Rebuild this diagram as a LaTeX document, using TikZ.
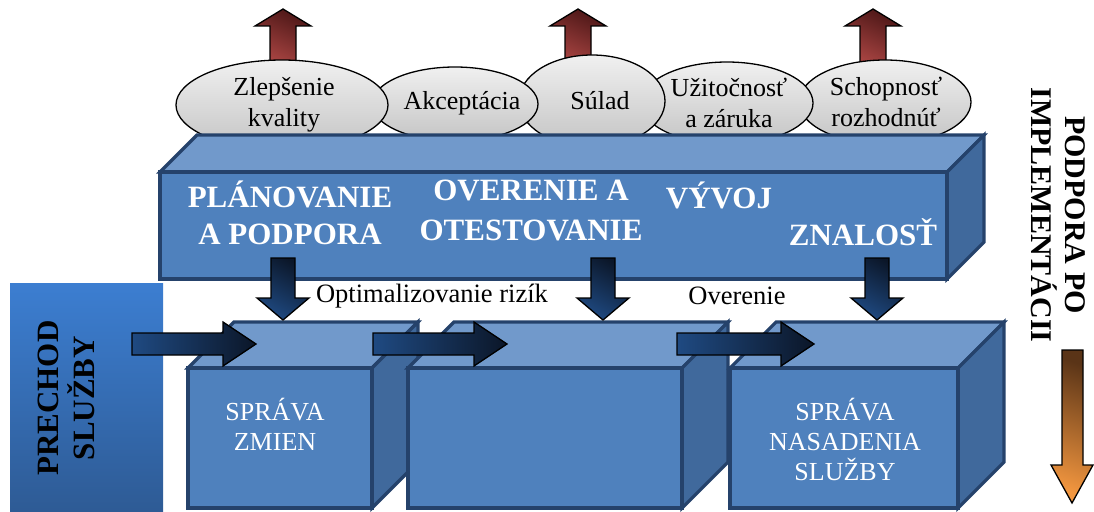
\documentclass[tikz,border=0pt]{standalone}
\usepackage{fontspec}
\setmainfont{Liberation Serif}
\usetikzlibrary{shapes.geometric}

\definecolor{facefront}{HTML}{4F81BD}
\definecolor{facetop}{HTML}{7199CB}
\definecolor{faceside}{HTML}{40699C}
\definecolor{edgeblue}{HTML}{25426B}
\definecolor{navylight}{HTML}{1F4A82}
\definecolor{navydark}{HTML}{0B1628}
\definecolor{redtop}{HTML}{4F1818}
\definecolor{redbot}{HTML}{C0504D}
\definecolor{orangetop}{HTML}{5A3417}
\definecolor{orangebot}{HTML}{F2963F}
\definecolor{bubbletop}{HTML}{F0F0F0}
\definecolor{bubblebot}{HTML}{C4C4C4}
\definecolor{bandtop}{HTML}{3C7ED1}
\definecolor{bandbot}{HTML}{2E5B95}

% solid block: name, left, top, right, bottom, depth
\newcommand\solidblock[6]{%
  \path[edgeline, fill=facetop] (#2,#3) -- (#2+#6,#3-#6) -- (#4+#6,#3-#6) -- (#4,#3) -- cycle;
  \path[edgeline, fill=faceside] (#4,#3) -- (#4+#6,#3-#6) -- (#4+#6,#5-#6) -- (#4,#5) -- cycle;
  \node[frontface, anchor=north west, minimum width=#4pt-#2pt, minimum height=#5pt-#3pt] (#1) at (#2,#3) {};
}
% block arrow pointing right: start x, tip x, centre y
\newcommand\rightblock[3]{%
  \path[navyright] (#1,#3-11) -- (#2-33,#3-11) -- (#2-33,#3-22) -- (#2,#3)
    -- (#2-33,#3+22) -- (#2-33,#3+11) -- (#1,#3+11) -- cycle;
}
% block arrow pointing down: centre x, top y, tip y
\newcommand\downblock[3]{%
  \path[navydown] (#1-12,#2) -- (#1+12,#2) -- (#1+12,#3-22) -- (#1+26,#3-22)
    -- (#1,#3) -- (#1-26,#3-22) -- (#1-12,#3-22) -- cycle;
}
% block arrow pointing up: centre x, tip y, bottom y
\newcommand\upblock[3]{%
  \path[redup] (#1-13,#3) -- (#1-13,#2+17) -- (#1-28,#2+17) -- (#1,#2)
    -- (#1+28,#2+17) -- (#1+13,#2+17) -- (#1+13,#3) -- cycle;
}

\begin{document}
\begin{tikzpicture}[x=1pt,y=-1pt,
  edgeline/.style={draw=edgeblue, line width=3.2pt, line join=miter},
  frontface/.style={edgeline, fill=facefront, rectangle, inner sep=0pt, outer sep=0pt},
  bubble/.style={ellipse, draw=black, line width=1.3pt, top color=bubbletop,
    bottom color=bubblebot, inner sep=0pt},
  bubbletext/.style={align=center, inner sep=0pt, font=\fontsize{26}{31}\selectfont},
  navyright/.style={draw=black, line width=1.3pt, left color=navylight, right color=navydark},
  navydown/.style={draw=black, line width=1.3pt, top color=navydark, bottom color=navylight,
    shading angle=-30},
  redup/.style={draw=black, line width=1.3pt, top color=redtop, bottom color=redbot,
    shading angle=-25},
  bartext/.style={text=white, align=center, font=\fontsize{31}{37}\bfseries\selectfont},
  cubetext/.style={text=white, align=center, font=\fontsize{26}{30}\selectfont},
  plain/.style={font=\fontsize{26.5}{30}\selectfont},
  sidetext/.style={align=center, font=\fontsize{31}{36}\bfseries\selectfont}]
\useasboundingbox (0,0) rectangle (1094,511);

% outcome arrows behind the bubbles
\upblock{283}{9}{80}
\upblock{578}{9}{80}
\upblock{873}{9}{80}

% outcome bubbles, right to left so each overlaps its right neighbour
\node[bubble, minimum width=172pt, minimum height=84pt] (decide) at (885,102) {};
\node[bubbletext] (decidetxt) at (886,102) {Schopnosť\\rozhodnúť};
\node[bubble, minimum width=172pt, minimum height=82pt] (utility) at (727,103) {};
\node[bubbletext] (utilitytxt) at (729,103) {Užitočnosť\\a záruka};
\node[bubble, minimum width=146pt, minimum height=92pt] (comply) at (592,101) {};
\node[bubbletext] (complytxt) at (600,101) {Súlad};
\node[bubble, minimum width=166pt, minimum height=74pt] (accept) at (455,104) {};
\node[bubbletext] (accepttxt) at (462,103) {Akceptácia};
\node[bubble, minimum width=212pt, minimum height=90pt] (quality) at (282,105) {};
\node[bubbletext] (qualitytxt) at (284,105) {Zlepšenie\\kvality};

% top slab
\solidblock{bar}{160}{172}{947}{279}{37}
\node[bartext] (plan) at (290,213) {PLÁNOVANIE\\A PODPORA};
\node[bartext, font=\fontsize{31}{40}\bfseries\selectfont] (test) at (531,210) {OVERENIE A\\OTESTOVANIE};
\node[bartext] (dev) at (719,195) {VÝVOJ};
\node[bartext] (know) at (863,232) {ZNALOSŤ};

% service transition band
\path[top color=bandtop, bottom color=bandbot] (10,283) rectangle (163,511);
\node[sidetext, rotate=90] (trans) at (66,398) {PRECHOD\\SLUŽBY};

% lower blocks
\solidblock{change}{188}{368}{372}{508}{46}
\solidblock{middle}{408}{368}{682}{508}{46}
\solidblock{deploy}{730}{368}{958}{508}{46}
\node[cubetext] (changetxt) at (275,424) {SPRÁVA\\ZMIEN};
\node[cubetext] (deploytxt) at (845,439) {SPRÁVA\\NASADENIA\\SLUŽBY};

% flow arrows
\rightblock{132}{256}{344}
\rightblock{373}{507}{344}
\rightblock{677}{814}{344}
\downblock{283}{258}{320}
\downblock{603}{258}{320}
\downblock{877}{258}{320}

\node[plain] (risk) at (432,296) {Optimalizovanie rizík};
\node[plain] (verify) at (737,296) {Overenie};

% post-implementation support
\node[sidetext, rotate=-90, font=\fontsize{30}{34}\bfseries\selectfont] (support) at (1058,215) {PODPORA PO\\IMPLEMENTÁCII};
\path[draw=black, line width=1.3pt, top color=orangetop, bottom color=orangebot, shading angle=-20]
  (1062,350) -- (1083,350) -- (1083,465) -- (1093,465) -- (1072,503) -- (1051,465) -- (1062,465) -- cycle;
\end{tikzpicture}
\end{document}
